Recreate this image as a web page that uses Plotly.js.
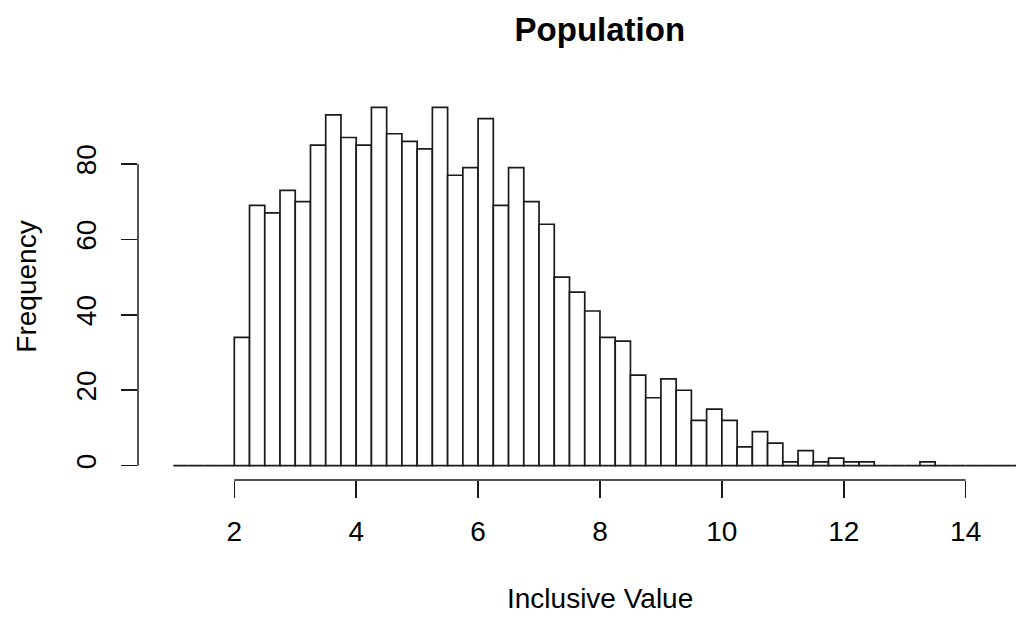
<!DOCTYPE html>
<html>
<head>
<meta charset="utf-8">
<script src="https://cdn.plot.ly/plotly-3.0.1.min.js"></script>
<style>
  html, body { margin: 0; padding: 0; background: #ffffff; overflow: hidden; }
  #chart { width: 1016px; height: 617px; }
</style>
</head>
<body>
<div id="chart"></div>
<script>
// Histogram bins (left edges, width 0.25) and frequencies
const binStarts = [1.00, 1.25, 1.50, 1.75, 2.00, 2.25, 2.50, 2.75, 3.00, 3.25, 3.50, 3.75,
  4.00, 4.25, 4.50, 4.75, 5.00, 5.25, 5.50, 5.75, 6.00, 6.25, 6.50, 6.75,
  7.00, 7.25, 7.50, 7.75, 8.00, 8.25, 8.50, 8.75, 9.00, 9.25, 9.50, 9.75,
  10.00, 10.25, 10.50, 10.75, 11.00, 11.25, 11.50, 11.75, 12.00, 12.25, 12.50, 12.75,
  13.00, 13.25, 13.50, 13.75, 14.00, 14.25, 14.50, 14.75];
const binWidth = 0.25;
const counts = [0, 0, 0, 0, 34, 69, 67, 73, 70, 85, 93, 87,
  85, 95, 88, 86, 84, 95, 77, 79, 92, 69, 79, 70,
  64, 50, 46, 41, 34, 33, 24, 18, 23, 20, 12, 15,
  12, 5, 9, 6, 1, 4, 1, 2, 1, 1, 0, 0,
  0, 1, 0, 0, 0, 0, 0, 0];
const xTicks = [2, 4, 6, 8, 10, 12, 14];
const yTicks = [0, 20, 40, 60, 80];
const chartTitle = "Population";
const xTitle = "Inclusive Value";
const yTitle = "Frequency";

const FONT = "Liberation Sans, Arial, Helvetica, sans-serif";

const trace = {
  type: "bar",
  x: binStarts,
  y: counts,
  width: binWidth,
  offset: 0,
  marker: { color: "#ffffff", line: { color: "#1a1a1a", width: 1.7 } },
  hoverinfo: "skip"
};

const layout = {
  width: 1016,
  height: 617,
  margin: { l: 138, r: 0, t: 93, b: 137, pad: 0 },
  paper_bgcolor: "#ffffff",
  plot_bgcolor: "#ffffff",
  showlegend: false,
  font: { family: FONT, size: 28, color: "#000000" },
  title: {
    text: chartTitle,
    font: { family: FONT, size: 33, weight: "bold", color: "#000000" },
    x: 0.526, xref: "paper", xanchor: "center",
    y: 0.952, yref: "container", yanchor: "middle"
  },
  xaxis: {
    range: [0.42, 14.826],
    tickmode: "array",
    tickvals: xTicks,
    ticktext: xTicks.map(String),
    ticks: "outside",
    ticklen: 17,
    tickwidth: 1.5,
    tickcolor: "#1a1a1a",
    ticklabelstandoff: 9,
    showline: false,
    showgrid: false,
    zeroline: false,
    tickfont: { family: FONT, size: 28, color: "#000000" },
    fixedrange: true
  },
  yaxis: {
    range: [-3.8, 98.8],
    tickmode: "array",
    tickvals: yTicks,
    ticktext: yTicks.map(String),
    ticks: "outside",
    ticklen: 16,
    tickwidth: 1.5,
    tickcolor: "#1a1a1a",
    tickangle: -90,
    ticklabelstandoff: 14,
    showline: false,
    showgrid: false,
    zeroline: false,
    tickfont: { family: FONT, size: 28, color: "#000000" },
    title: { text: yTitle, font: { family: FONT, size: 28, color: "#000000" }, standoff: 25 },
    automargin: false,
    fixedrange: true
  },
  shapes: [
    { type: "line", xref: "x", yref: "paper", x0: xTicks[0], x1: xTicks[xTicks.length - 1], y0: 0, y1: 0,
      line: { color: "#1a1a1a", width: 1.5 } },
    { type: "line", xref: "paper", yref: "y", x0: 0, x1: 0, y0: yTicks[0], y1: yTicks[yTicks.length - 1],
      line: { color: "#1a1a1a", width: 1.5 } }
  ],
  annotations: [
    { text: xTitle, xref: "x", yref: "paper", x: 8, y: 0, xanchor: "center", yanchor: "middle",
      yshift: -118, showarrow: false, font: { family: FONT, size: 28, color: "#000000" } }
  ]
};

Plotly.newPlot("chart", [trace], layout, { displayModeBar: false, staticPlot: true });
</script>
</body>
</html>
